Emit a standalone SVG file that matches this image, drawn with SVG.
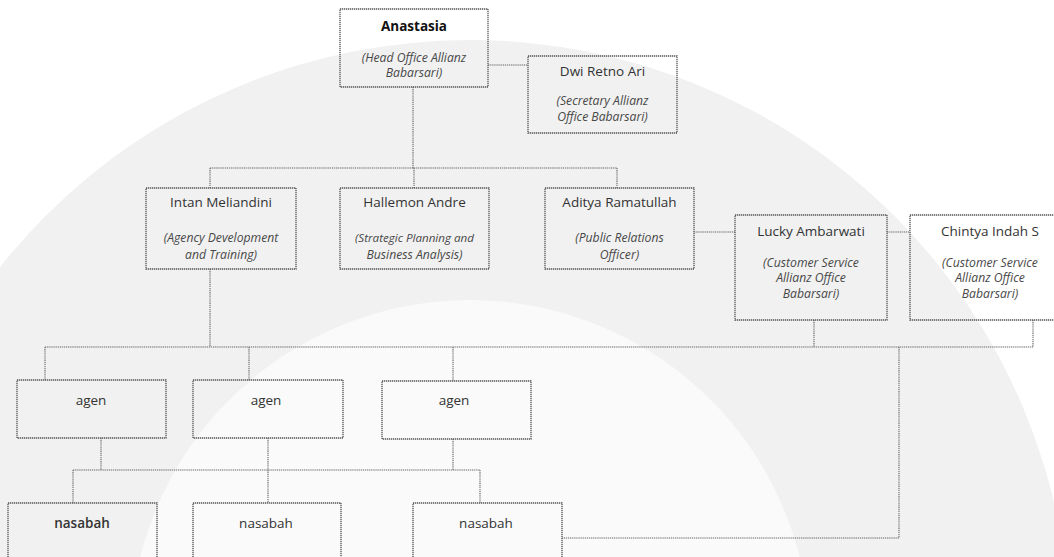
<svg xmlns="http://www.w3.org/2000/svg" width="1054" height="557" viewBox="0 0 1054 557">
<style>
.bg{fill:#ffffff}
.box{fill:none;stroke:#555;stroke-width:1.3;stroke-dasharray:1.3 0.7}
.con{fill:none;stroke:#666;stroke-width:1.1;stroke-dasharray:1.3 0.8}
.nm{font-family:"Open Sans","Noto Sans",sans-serif;font-size:13.5px;fill:#333;text-anchor:middle}
.b{font-weight:bold;fill:#111}
.it{font-family:"Open Sans","Noto Sans",sans-serif;font-size:12.2px;font-style:italic;fill:#484848;text-anchor:middle}
</style>
<rect class="bg" x="0" y="0" width="1054" height="557"/>
<g id="watermark">
<circle cx="470" cy="640" r="600" fill="#f1f1f1"/>
<circle cx="470" cy="640" r="340" fill="#fafafa"/>
</g>
<g id="connectors">
<path class="con" d="M413,87 V168"/>
<path class="con" d="M210,168 H617"/>
<path class="con" d="M210,168 V188 M414,168 V188 M617,168 V188"/>
<path class="con" d="M488,65 H528"/>
<path class="con" d="M694,232 H735"/>
<path class="con" d="M887,232 H910"/>
<path class="con" d="M210,269 V347"/>
<path class="con" d="M45,347 H1033"/>
<path class="con" d="M45,347 V380 M249,347 V380 M453,347 V381"/>
<path class="con" d="M814,320 V347 M1033,320 V347"/>
<path class="con" d="M899,347 V538 H562"/>
<path class="con" d="M101,438 V470 M268,438 V503 M453,439 V470"/>
<path class="con" d="M73,470 H480"/>
<path class="con" d="M73,470 V503 M480,470 V503"/>
</g>
<g id="anastasia">
<rect class="box" x="340" y="9" width="148" height="78"/>
<text class="nm b" x="414" y="31" font-size="12.5">Anastasia</text>
<text class="it" x="414" y="62">(Head Office Allianz</text>
<text class="it" x="414" y="77">Babarsari)</text>
</g>
<g id="dwi">
<rect class="box" x="528" y="56" width="149" height="77"/>
<text class="nm" x="602.5" y="76">Dwi Retno Ari</text>
<text class="it" x="602.5" y="105">(Secretary Allianz</text>
<text class="it" x="602.5" y="121">Office Babarsari)</text>
</g>
<g id="intan">
<rect class="box" x="146" y="188" width="150" height="81"/>
<text class="nm" x="221" y="207">Intan Meliandini</text>
<text class="it" x="221" y="242">(Agency Development</text>
<text class="it" x="221" y="259">and Training)</text>
</g>
<g id="hallemon">
<rect class="box" x="340" y="188" width="149" height="81"/>
<text class="nm" x="414.5" y="207">Hallemon Andre</text>
<text class="it" x="414.5" y="242" style="font-size:11.6px">(Strategic Planning and</text>
<text class="it" x="414.5" y="259">Business Analysis)</text>
</g>
<g id="aditya">
<rect class="box" x="545" y="188" width="149" height="81"/>
<text class="nm" x="619.5" y="207">Aditya Ramatullah</text>
<text class="it" x="619.5" y="242">(Public Relations</text>
<text class="it" x="619.5" y="259">Officer)</text>
</g>
<g id="lucky">
<rect class="box" x="735" y="215" width="152" height="105"/>
<text class="nm" x="811" y="236">Lucky Ambarwati</text>
<text class="it" x="811" y="267">(Customer Service</text>
<text class="it" x="811" y="282">Allianz Office</text>
<text class="it" x="811" y="298">Babarsari)</text>
</g>
<g id="chintya">
<rect class="box" x="910" y="215" width="160" height="105"/>
<text class="nm" x="990" y="236">Chintya Indah S</text>
<text class="it" x="990" y="267">(Customer Service</text>
<text class="it" x="990" y="282">Allianz Office</text>
<text class="it" x="990" y="298">Babarsari)</text>
</g>
<g id="agen1">
<rect class="box" x="17" y="380" width="149" height="58"/>
<text class="nm" x="91" y="405">agen</text>
</g>
<g id="agen2">
<rect class="box" x="193" y="380" width="150" height="58"/>
<text class="nm" x="266" y="405">agen</text>
</g>
<g id="agen3">
<rect class="box" x="382" y="381" width="149" height="58"/>
<text class="nm" x="454" y="405">agen</text>
</g>
<g id="nasabah1">
<rect class="box" x="8" y="503" width="149" height="70"/>
<text class="nm" x="82" y="528" font-weight="600">nasabah</text>
</g>
<g id="nasabah2">
<rect class="box" x="193" y="503" width="148" height="70"/>
<text class="nm" x="266" y="528">nasabah</text>
</g>
<g id="nasabah3">
<rect class="box" x="413" y="503" width="149" height="70"/>
<text class="nm" x="486" y="528">nasabah</text>
</g>
</svg>
